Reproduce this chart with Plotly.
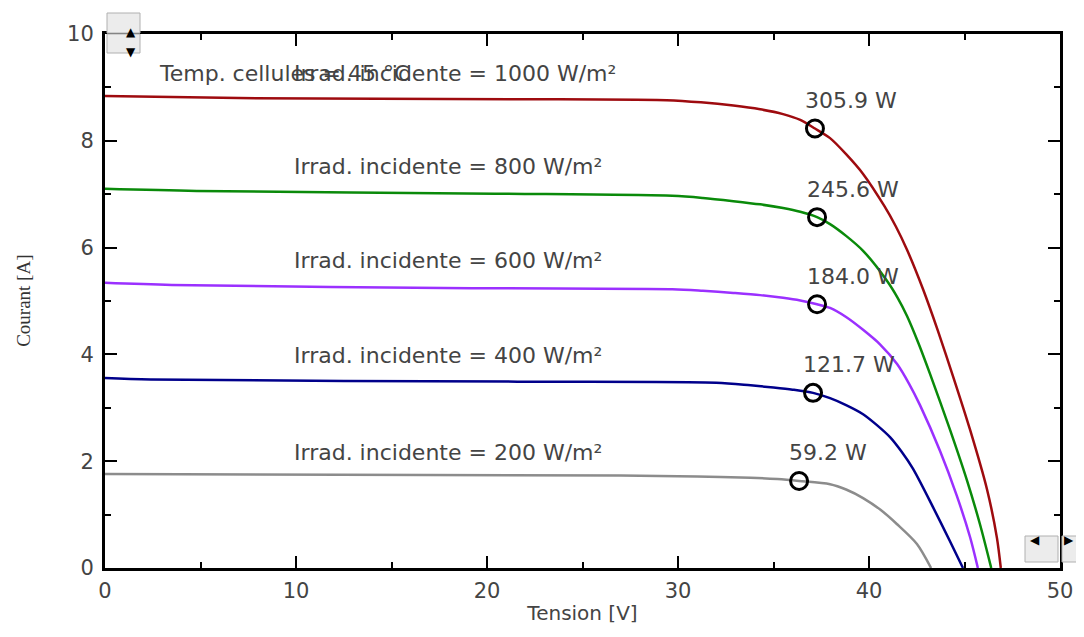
import plotly.graph_objects as go

# I-V curves, tension [V] / courant [A]
v_1000 = [0, 7.0, 21.5, 29.4, 31.2, 32.9, 34.3, 35.5, 36.4, 37.17, 37.96, 38.8, 39.69, 40.8, 41.4, 41.99, 42.83, 43.6, 44.4, 45.29, 46.18, 46.7, 46.9]
i_1000 = [8.84, 8.80, 8.78, 8.76, 8.72, 8.66, 8.59, 8.50, 8.39, 8.23, 8.05, 7.75, 7.38, 6.78, 6.40, 5.96, 5.22, 4.45, 3.59, 2.59, 1.47, 0.56, 0.0]

v_800 = [0, 4.8, 20.4, 29.7, 31.3, 32.9, 34.3, 35.5, 36.4, 37.28, 37.96, 38.8, 39.69, 40.94, 41.5, 41.99, 42.6, 43.19, 44.24, 45.13, 45.81, 46.4]
i_800 = [7.10, 7.06, 7.01, 6.97, 6.93, 6.87, 6.81, 6.74, 6.67, 6.57, 6.44, 6.22, 5.94, 5.38, 5.06, 4.72, 4.20, 3.64, 2.59, 1.64, 0.82, 0.0]

v_600 = [0, 3.5, 19.2, 29.7, 31.3, 32.9, 34.3, 35.5, 36.4, 37.28, 37.96, 38.8, 39.69, 40.6, 41.47, 42.1, 42.67, 43.72, 44.6, 45.29, 45.7]
i_600 = [5.34, 5.30, 5.24, 5.22, 5.19, 5.15, 5.11, 5.06, 5.01, 4.94, 4.87, 4.70, 4.46, 4.18, 3.82, 3.45, 3.05, 2.19, 1.35, 0.58, 0.0]

v_400 = [0, 2.4, 21.6, 32.0, 33.8, 35.0, 36.0, 37.07, 37.96, 38.8, 39.69, 40.4, 41.1, 41.7, 42.3, 43.35, 44.24, 44.92]
i_400 = [3.56, 3.53, 3.49, 3.47, 3.42, 3.38, 3.34, 3.28, 3.18, 3.05, 2.88, 2.68, 2.45, 2.18, 1.86, 1.14, 0.50, 0.0]

v_200 = [0, 27.0, 31.0, 33.8, 35.2, 36.34, 37.96, 38.8, 39.69, 40.6, 41.47, 42.51, 43.25]
i_200 = [1.76, 1.73, 1.715, 1.69, 1.665, 1.63, 1.57, 1.47, 1.31, 1.09, 0.82, 0.45, 0.0]

irradiances = ["1000", "800", "600", "400", "200"]
colors = ["#9e0b0f", "#0a8a0a", "#9b30ff", "#00008b", "#8c8c8c"]

mpp_v = [37.17, 37.28, 37.28, 37.07, 36.34]
mpp_i = [8.23, 6.57, 4.94, 3.28, 1.63]
mpp_labels = ["305.9 W", "245.6 W", "184.0 W", "121.7 W", "59.2 W"]

label_v = 9.8
temp_label = "Temp. cellules = 45 °C"

curves = [(v_1000, i_1000), (v_800, i_800), (v_600, i_600), (v_400, i_400), (v_200, i_200)]

fig = go.Figure()
for (vv, ii), col in zip(curves, colors):
    fig.add_trace(go.Scatter(x=vv, y=ii, mode="lines", showlegend=False,
                             line=dict(color=col, width=2.5, shape="spline", smoothing=0.8)))

fig.add_trace(go.Scatter(x=mpp_v, y=mpp_i, mode="markers", showlegend=False,
                         marker=dict(symbol="circle-open", size=17, color="black", line=dict(width=3, color="black"))))

FONT = "DejaVu Sans, Verdana, sans-serif"
txt = dict(family=FONT, size=22, color="#444444")

for (vv, ii), irr in zip(curves, irradiances):
    fig.add_annotation(x=label_v, y=ii[0], text="Irrad. incidente = " + irr + " W/m²", showarrow=False,
                       xanchor="left", yanchor="middle", yshift=22, font=txt)

fig.add_annotation(x=2.7, y=i_1000[0], text=temp_label, showarrow=False, xanchor="left",
                   yanchor="middle", yshift=22, font=txt)

for v, i, lab in zip(mpp_v, mpp_i, mpp_labels):
    fig.add_annotation(x=v, y=i, text=lab, showarrow=False, xanchor="left", yanchor="middle",
                       xshift=-12, yshift=28, font=txt)

fig.add_annotation(x=-0.086, y=0.5, xref="paper", yref="paper", text="Courant [A]", textangle=-90,
                   xanchor="center", yanchor="middle", showarrow=False,
                   font=dict(family="Liberation Serif, Times New Roman", size=19, color="#333333"))

# scroll buttons (window widgets)
def px2paper(px, py):
    return (px - 105) / 955, (567 - py) / 534

buttons = [(107, 12, 140, 32, "▲"), (107, 33, 140, 52, "▼"), (1025, 535, 1058, 561, "◀"), (1062, 535, 1090, 561, "▶")]
for x0, y0, x1, y1, sym in buttons:
    a0, b0 = px2paper(x0, y0)
    a1, b1 = px2paper(x1, y1)
    fig.add_shape(type="rect", xref="paper", yref="paper", x0=a0, y0=b0, x1=a1, y1=b1,
                  fillcolor="#ececec", line=dict(color="#b0b0b0", width=1), layer="above")
    fig.add_annotation(x=(a0 + a1) / 2, y=(b0 + b1) / 2, xref="paper", yref="paper", text=sym,
                       showarrow=False, font=dict(family="DejaVu Sans", size=12, color="black"))

axis_common = dict(showline=True, linecolor="black", linewidth=3, mirror="ticks", ticks="inside",
                   ticklen=12, tickwidth=2, tickcolor="black", showgrid=False, zeroline=False,
                   tickfont=dict(family=FONT, size=21, color="#444444"))

fig.update_xaxes(range=[0, 50], dtick=10, tick0=0,
                 minor=dict(dtick=5, ticks="inside", ticklen=6, tickwidth=2, tickcolor="black"),
                 title=dict(text="Tension [V]", font=dict(family=FONT, size=20, color="#444444"),
                            standoff=4),
                 ticklabelstandoff=2,
                 **axis_common)
fig.update_yaxes(range=[0, 10], dtick=2, tick0=0,
                 minor=dict(dtick=1, ticks="inside", ticklen=6, tickwidth=2, tickcolor="black"),
                 ticklabelstandoff=4,
                 **axis_common)

# the page body adds an 8px offset, margins compensate
fig.update_layout(width=1084, height=637, plot_bgcolor="white", paper_bgcolor="white",
                  margin=dict(l=97, r=32, t=26, b=77))

fig.write_html("out.html")
